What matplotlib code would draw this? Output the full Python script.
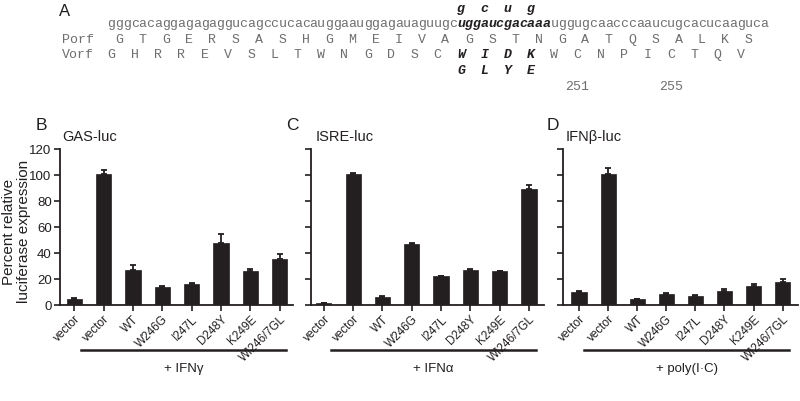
import matplotlib
matplotlib.use("Agg")
import matplotlib.pyplot as plt
from matplotlib.lines import Line2D

plt.rcParams['font.family'] = ['Liberation Sans', 'DejaVu Sans']

# ---------------- data ----------------
categories = ["vector", "vector", "WT", "W246G", "I247L", "D248Y", "K249E", "WI246/7GL"]

gas_values = [5, 101, 27, 13.5, 16, 47.5, 26, 35.5]
gas_errors = [0.5, 2.8, 3.5, 1.0, 1.3, 7.0, 2.0, 3.6]

isre_values = [1.5, 100.5, 6.5, 47, 22, 27, 25.8, 89.5]
isre_errors = [0.2, 0.8, 0.3, 0.8, 0.2, 0.6, 0.6, 2.5]

ifnb_values = [10, 100.5, 4.7, 8.5, 7.2, 11, 15, 17.5]
ifnb_errors = [0.6, 5.2, 0.3, 0.6, 0.3, 1.0, 0.8, 2.5]

panel_letters = ["B", "C", "D"]
panel_titles = ["GAS-luc", "ISRE-luc", "IFNβ-luc"]
treatments = ["+ IFNγ", "+ IFNα", "+ poly(I·C)"]
yticks = [0, 20, 40, 60, 80, 100, 120]
ylabel = "Percent relative\nluciferase expression"

nt_before = "gggcacaggagagaggucagccucacauggaauggagauaguugc"
nt_bold = "uggaucgacaaa"
nt_after = "uggugcaacccaaucugcacucaaguca"
porf = list("GTGERSASHGMEIVAGSTNGATQSALKS")
vorf = list("GHRREVSLTWNGDSCWIDKWCNPICTQV")
mut_nt = list("gcug")
mut_aa = list("GLYE")
pos_labels = ["251", "255"]

# ---------------- figure ----------------
W, H = 800, 401
fig = plt.figure(figsize=(8, 4.01), dpi=100)
dark = "#231f20"
grey = "#6e6e6e"

def fx(px):
    return px / W

def fy(py):
    return 1 - py / H

# ---- panel A (sequence) ----
x0 = 107.5
cw = 7.77
mono = "Liberation Mono"
fs_mono = 9.5

def char_x(i):
    return x0 + (i + 0.5) * cw

fig.text(fx(65), fy(12), "A", fontsize=12, color=dark, ha="center", va="center")

seq = nt_before + nt_bold + nt_after
nb = len(nt_before)
for i, ch in enumerate(seq):
    bold = nb <= i < nb + len(nt_bold)
    fig.text(fx(char_x(i)), fy(24), ch, family=mono, fontsize=fs_mono,
             color=dark if bold else grey,
             fontweight="bold" if bold else "normal",
             fontstyle="italic" if bold else "normal",
             ha="center", va="center")

for k, ch in enumerate(mut_nt):
    fig.text(fx(char_x(nb + 3 * k)), fy(9), ch, family=mono, fontsize=fs_mono,
             color=dark, fontweight="bold", fontstyle="italic", ha="center", va="center")

fig.text(fx(62), fy(40), "Porf", family=mono, fontsize=fs_mono, color=grey, ha="left", va="center")
fig.text(fx(62), fy(55), "Vorf", family=mono, fontsize=fs_mono, color=grey, ha="left", va="center")

for i, aa in enumerate(porf):
    fig.text(fx(char_x(3 * i + 1)), fy(40), aa, family=mono, fontsize=fs_mono,
             color=grey, ha="center", va="center")

w_idx = nb // 3
for i, aa in enumerate(vorf):
    bold = w_idx <= i < w_idx + 4
    fig.text(fx(char_x(3 * i)), fy(55), aa, family=mono, fontsize=fs_mono,
             color=dark if bold else grey,
             fontweight="bold" if bold else "normal",
             fontstyle="italic" if bold else "normal",
             ha="center", va="center")

for k, aa in enumerate(mut_aa):
    fig.text(fx(char_x(3 * (w_idx + k))), fy(71), aa, family=mono, fontsize=fs_mono,
             color=dark, fontweight="bold", fontstyle="italic", ha="center", va="center")

for lab in pos_labels:
    idx = w_idx + (int(lab) - 246)
    fig.text(fx(char_x(3 * idx)), fy(87), lab, family=mono, fontsize=fs_mono,
             color=grey, ha="center", va="center")

# ---- panels B, C, D ----
panels = [
    dict(vals=gas_values, errs=gas_errors, left=60, right=293, xl=(-0.49, 7.46),
         letter_x=41.5, title_x=62, line=(81, 286)),
    dict(vals=isre_values, errs=isre_errors, left=310.7, right=543.6, xl=(-0.45, 7.5),
         letter_x=292.5, title_x=316, line=(331, 536)),
    dict(vals=ifnb_values, errs=ifnb_errors, left=563, right=798, xl=(-0.55, 7.53),
         letter_x=552.5, title_x=566, line=(584, 789)),
]

top_px, bot_px = 149, 305
for p_i, p in enumerate(panels):
    axw = p["right"] - p["left"]
    ax = fig.add_axes([fx(p["left"]), fy(bot_px), axw / W, (bot_px - top_px) / H])
    xs = list(range(len(categories)))
    ax.bar(xs, p["vals"], width=0.52, color=dark, edgecolor=dark, linewidth=0.5, zorder=2)
    ax.errorbar(xs, p["vals"], yerr=[[0] * len(xs), p["errs"]], fmt="none",
                ecolor=dark, elinewidth=1.3, capsize=2.5, capthick=1.3, zorder=3)
    ax.set_xlim(*p["xl"])
    ax.set_ylim(0, 120)
    ax.set_yticks(yticks)
    ax.set_xticks(xs)
    ax.set_xticklabels(categories, rotation=45, ha="right", va="top",
                       rotation_mode="anchor", fontsize=8.5, color=dark)
    if p_i == 0:
        ax.set_yticklabels([str(t) for t in yticks], fontsize=9.5, color=dark)
        ax.set_ylabel(ylabel, fontsize=11, color=dark, linespacing=1.05)
        ax.yaxis.set_label_coords((31.0 - p["left"]) / axw, 0.47)
    else:
        ax.set_yticklabels([])
    for s in ["top", "right"]:
        ax.spines[s].set_visible(False)
    for s in ["left", "bottom"]:
        ax.spines[s].set_linewidth(1.3)
        ax.spines[s].set_color(dark)
    ax.tick_params(axis="both", direction="out", length=4, width=1.2, color=dark, pad=2)
    ax.patch.set_alpha(0)

    fig.text(fx(p["letter_x"]), fy(126), panel_letters[p_i], fontsize=12.5, color=dark,
             ha="center", va="center")
    fig.text(fx(p["title_x"]), fy(137), panel_titles[p_i], fontsize=10.5, color=dark,
             ha="left", va="center")

    l0, l1 = p["line"]
    fig.add_artist(Line2D([fx(l0), fx(l1)], [fy(350), fy(350)], color=dark, linewidth=1.8))
    fig.text(fx((l0 + l1) / 2), fy(369), treatments[p_i], fontsize=9.5, color=dark,
             ha="center", va="center")

fig.savefig("out.png", dpi=100)
